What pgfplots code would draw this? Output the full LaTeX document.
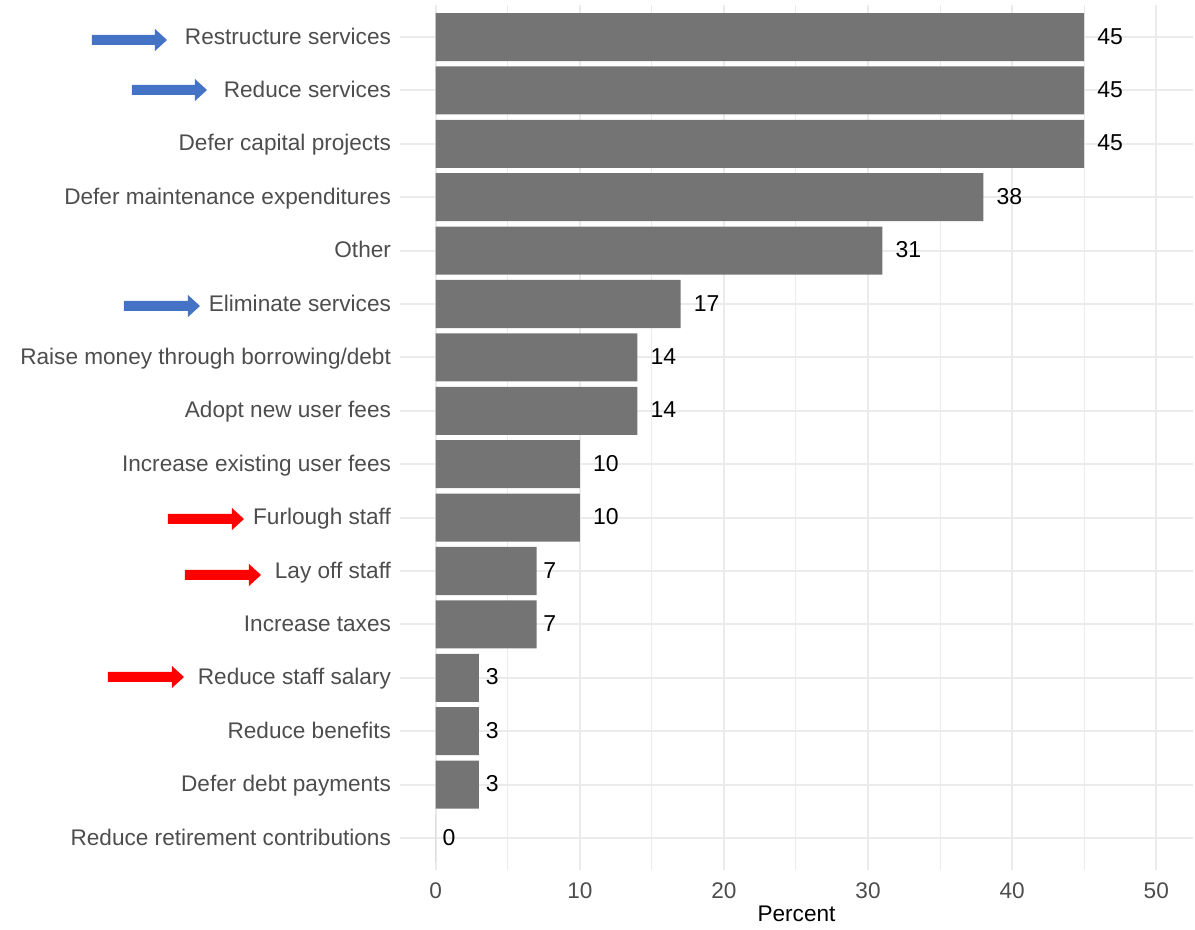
\documentclass[border=0pt]{standalone}
\usepackage{fontspec}
\setmainfont{Liberation Sans}
\usepackage{pgfplots}
\pgfplotsset{compat=1.18}
\definecolor{barc}{RGB}{115,116,115}
\definecolor{gridc}{RGB}{235,235,235}
\definecolor{labc}{RGB}{77,77,77}
\definecolor{arrblue}{RGB}{68,114,196}
\definecolor{arrred}{RGB}{255,0,0}
\newcommand{\fatarrow}[4]{% x0, x1(tip), yc, color
  \fill[#4] (#1,#3-5) -- (#2-12,#3-5) -- (#2-12,#3-11) -- (#2,#3) -- (#2-12,#3+11) -- (#2-12,#3+5) -- (#1,#3+5) -- cycle;}
\begin{document}
\begin{tikzpicture}
\begin{scope}[x=0.5pt,y=-0.5pt,shift={(-200pt,435pt)}]
\path[use as bounding box] (0,0) rectangle (1195,930);
\end{scope}
\begin{axis}[
  at={(0,0)}, anchor=south west,
  scale only axis, width=396.5pt, height=432.5pt,
  xmin=-2.48, xmax=52.55, ymin=0.4, ymax=16.6,
  y dir=reverse,
  xbar, bar width=0.9,
  ytick={1,...,16},
  yticklabels={Restructure services, Reduce services, Defer capital projects, Defer maintenance expenditures, Other, Eliminate services, Raise money through borrowing/debt, Adopt new user fees, Increase existing user fees, Furlough staff, Lay off staff, Increase taxes, Reduce staff salary, Reduce benefits, Defer debt payments, Reduce retirement contributions},
  xtick={0,10,...,50},
  minor xtick={5,15,...,45},
  grid=both,
  major grid style={color=gridc, line width=1pt},
  minor grid style={color=gridc, line width=0.5pt},
  axis line style={draw=none},
  major tick length=0pt, minor tick length=0pt,
  tick style={draw=none},
  /pgf/number format/assume math mode=true,
  ticklabel style={font=\fontsize{11.3}{13}\selectfont, text=labc},
  yticklabel style={xshift=-1pt, anchor=east, text height=0.716em, text depth=0pt},
  xticklabel style={yshift=-3pt},
  xlabel={Percent},
  xlabel style={font=\fontsize{11.3}{13}\selectfont, text=black, yshift=3.5pt},
  nodes near coords={\makebox[1.5\width][r]{\pgfmathprintnumber{\pgfplotspointmeta}}},
  every node near coord/.append style={anchor=west, inner xsep=0pt, font=\fontsize{11.5}{13}\selectfont, text=black, text height=0.716em, text depth=0pt},
  point meta=x,
  clip=false,
]
\addplot[fill=barc, draw=none] coordinates {
(45,1) (45,2) (45,3) (38,4) (31,5) (17,6) (14,7) (14,8) (10,9) (10,10) (7,11) (7,12) (3,13) (3,14) (3,15) (0,16)
};
\end{axis}
\begin{scope}[x=0.5pt,y=-0.5pt,shift={(-200pt,435pt)}]
\fatarrow{92}{167}{40}{arrblue}
\fatarrow{132}{207}{90}{arrblue}
\fatarrow{124}{200}{306}{arrblue}
\fatarrow{168}{244}{519}{arrred}
\fatarrow{185}{261}{575}{arrred}
\fatarrow{108}{184}{677}{arrred}
\end{scope}
\end{tikzpicture}
\end{document}
